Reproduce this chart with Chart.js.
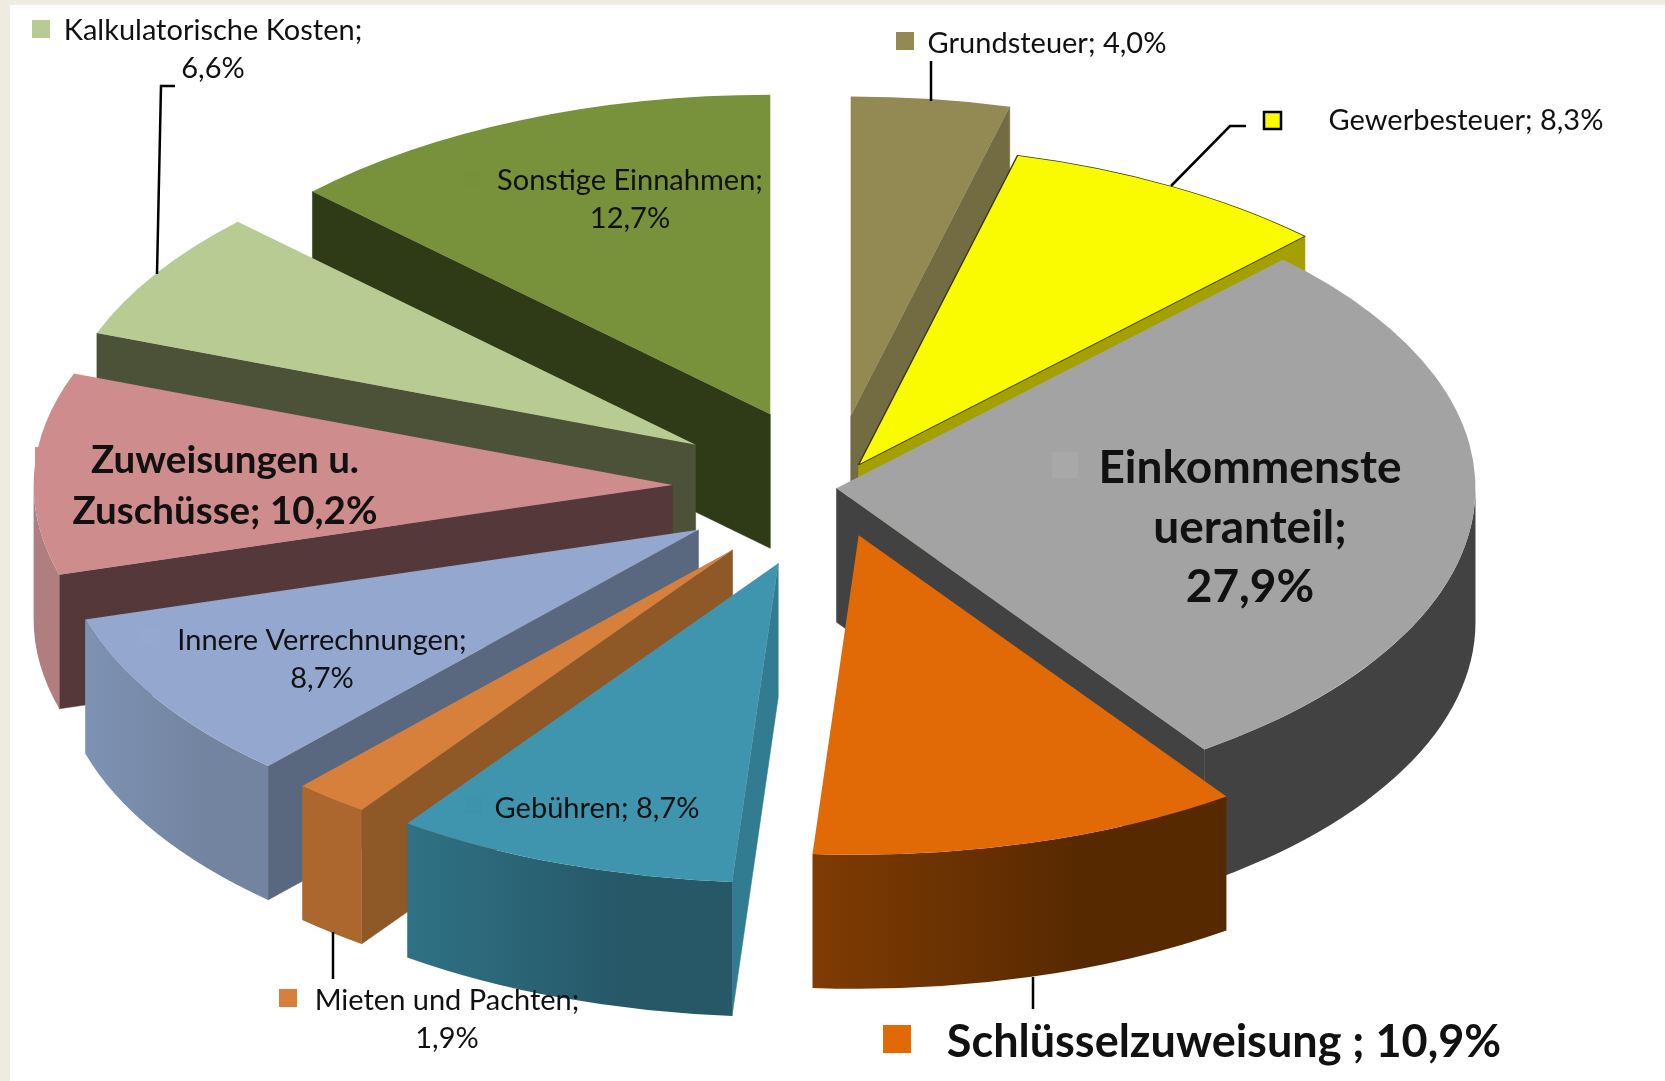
<!DOCTYPE html>
<html>
<head>
<meta charset="utf-8">
<title>Einnahmen</title>
<script src="https://cdn.jsdelivr.net/npm/chart.js@4"></script>
<style>
    html, body { margin: 0; padding: 0; background: #fff; overflow: hidden; }
    #wrap { position: relative; width: 1665px; height: 1081px; }
    #stripLeft { position: absolute; left: 0; top: 0; width: 10px; height: 1081px; background: #eeece1; }
    #stripTop { position: absolute; left: 0; top: 0; width: 1665px; height: 5px; background: #eeece1; }
    canvas { position: absolute; left: 0; top: 0; }
</style>
</head>
<body>
<div id="wrap">
    <div id="stripLeft"></div>
    <div id="stripTop"></div>
    <canvas id="chart" width="1665" height="1081"></canvas>
</div>
<script>
const categories = ['Grundsteuer', 'Gewerbesteuer', 'Einkommensteueranteil', 'Schlüsselzuweisung ', 'Gebühren',
    'Mieten und Pachten', 'Innere Verrechnungen', 'Zuweisungen u. Zuschüsse', 'Kalkulatorische Kosten', 'Sonstige Einnahmen'];
const shares = [4.0, 8.3, 27.9, 10.9, 8.7, 1.9, 8.7, 10.2, 6.6, 12.7];

// how far each slice is pulled out of the pie, in px on the unsquashed disc
const explode = [145, 53, 4, 98, 160, 159, 158, 160, 162, 160];

const topColors = ['#938953', '#fbfb00', '#a3a3a3', '#e16a06', '#3f95ae', '#d7803b', '#93a7cf', '#ce8c8c', '#b8cb92', '#77923a'];
const sideColors = ['#736b41', '#a3a000', '#424242', '#5a2a00', '#327c92', '#8e5827', '#5a687f', '#54383a', '#4b5238', '#2f3a16'];
const frontFrom = ['#736b41', '#a3a000', '#424242', '#7f3b03', '#2f7285', '#ac672f', '#7e92b4', '#b07e7e', '#4b5238', '#2f3a16'];
const frontTo = ['#736b41', '#a3a000', '#424242', '#572901', '#265868', '#ac672f', '#72849f', '#b07e7e', '#4b5238', '#2f3a16'];

const squash = 0.5;
const depth = 134;

// cut = characters per line, cx = centre of the text block
const labelLayout = [
    { cut: [], cx: 1047, y: 43.5, size: 29, key: [896, 32, 18, '#938953'] },
    { cut: [], cx: 1466, y: 120.5, size: 29, key: [1264, 112, 17, '#fbfb00', '#000'] },
    { cut: [12, 10], cx: 1250, y: 468.5, gap: 59.5, size: 46, bold: true, key: [1052, 452, 26, '#a8a8a8'] },
    { cut: [], cx: 1224, y: 1042, size: 45, bold: true, key: [883, 1025, 28, '#e16a06'] },
    { cut: [], cx: 597, y: 808.5, size: 29, key: [465, 797, 17, '#3d93ac'] },
    { cut: [19], cx: 447, y: 1000.5, size: 29, key: [279, 989, 18, '#d7803b'] },
    { cut: [21], cx: 322, y: 640.5, size: 29, key: [142, 629, 17, '#95a9d0'] },
    { cut: [15], cx: 225, y: 460.5, gap: 51, size: 38.5, bold: true, key: [35, 447, 20, '#ce8c8c'] },
    { cut: [23], cx: 213, y: 30.5, size: 29, key: [32, 20, 18, '#b8cb92'] },
    { cut: [19], cx: 630, y: 180.5, size: 29, key: [464, 170, 17, '#76913a'] }
];

const leaders = [
    [[931, 61], [931, 101]],
    [[1246, 126], [1230, 126], [1171, 186]],
    [[1033, 977], [1033, 1009]],
    [[333, 932], [333, 979]],
    [[175, 86], [161, 86], [157, 274]]
];

function formatShare(v) {
    return v.toFixed(1).replace('.', ',') + '%';
}

function labelLines(i) {
    const text = categories[i] + '; ' + formatShare(shares[i]);
    const lines = [];
    let pos = 0;
    labelLayout[i].cut.forEach(n => {
        lines.push(text.slice(pos, pos + n).trim());
        pos += n;
    });
    lines.push(text.slice(pos).trim());
    return lines;
}

function drawWalls(ctx, arc, i, cy) {
    const mid = (arc.startAngle + arc.endAngle) / 2;
    const ox = arc.x + Math.cos(mid) * explode[i];
    const oy = cy + Math.sin(mid) * explode[i] * squash;
    const R = arc.outerRadius;
    const rim = a => [ox + Math.cos(a) * R, oy + Math.sin(a) * R * squash];

    const radial = a => {
        const p = rim(a);
        ctx.beginPath();
        ctx.moveTo(ox, oy);
        ctx.lineTo(p[0], p[1]);
        ctx.lineTo(p[0], p[1] + depth);
        ctx.lineTo(ox, oy + depth);
        ctx.closePath();
        ctx.fillStyle = sideColors[i];
        ctx.strokeStyle = sideColors[i];
        ctx.lineWidth = 0.5;
        ctx.fill();
        ctx.stroke();
    };
    if (Math.cos(arc.startAngle) < 0) radial(arc.startAngle);
    if (Math.cos(arc.endAngle) > 0) radial(arc.endAngle);

    const a0 = Math.max(arc.startAngle, 0);
    const a1 = Math.min(arc.endAngle, Math.PI);
    if (a1 > a0) {
        const x0 = rim(a0)[0], x1 = rim(a1)[0];
        const grad = ctx.createLinearGradient(x1, 0, x0, 0);
        grad.addColorStop(0, frontFrom[i]);
        grad.addColorStop(0.65, frontTo[i]);
        grad.addColorStop(1, frontTo[i]);
        ctx.beginPath();
        ctx.ellipse(ox, oy, R, R * squash, 0, a0, a1);
        ctx.ellipse(ox, oy + depth, R, R * squash, 0, a1, a0, true);
        ctx.closePath();
        ctx.fillStyle = grad;
        ctx.fill();
    }
}

const pie3d = {
    id: 'pie3d',
    beforeDatasetDraw(chart, args) {
        const ctx = chart.ctx;
        const arcs = args.meta.data;
        const cy = arcs[0].y;
        const order = arcs.map((a, i) => i).sort((p, q) =>
            Math.sin((arcs[p].startAngle + arcs[p].endAngle) / 2) - Math.sin((arcs[q].startAngle + arcs[q].endAngle) / 2));
        order.forEach(i => {
            const arc = arcs[i];
            const mid = (arc.startAngle + arc.endAngle) / 2;
            drawWalls(ctx, arc, i, cy);
            ctx.save();
            ctx.translate(arc.x, cy);
            ctx.scale(1, squash);
            ctx.translate(-arc.x + Math.cos(mid) * explode[i], -cy + Math.sin(mid) * explode[i]);
            arc.draw(ctx);
            ctx.restore();
        });
        return false;
    },
    afterDatasetsDraw(chart) {
        const ctx = chart.ctx;
        ctx.save();
        ctx.strokeStyle = '#000';
        ctx.lineWidth = 2.5;
        leaders.forEach(pts => {
            ctx.beginPath();
            pts.forEach((p, n) => n ? ctx.lineTo(p[0], p[1]) : ctx.moveTo(p[0], p[1]));
            ctx.stroke();
        });
        labelLayout.forEach((l, i) => {
            const k = l.key;
            ctx.fillStyle = k[3];
            ctx.fillRect(k[0], k[1], k[2], k[2]);
            if (k[4]) {
                ctx.strokeStyle = k[4];
                ctx.lineWidth = 2.5;
                ctx.strokeRect(k[0], k[1], k[2], k[2]);
            }
            ctx.fillStyle = '#111';
            ctx.font = (l.bold ? 'bold ' : '') + l.size + 'px Lato';
            ctx.textAlign = 'center';
            ctx.textBaseline = 'middle';
            labelLines(i).forEach((line, n) => ctx.fillText(line, l.cx, l.y + n * (l.gap || 38.5)));
        });
        ctx.restore();
    }
};

new Chart(document.getElementById('chart'), {
    type: 'pie',
    data: {
        labels: categories,
        datasets: [{
            data: shares,
            backgroundColor: topColors,
            borderWidth: [0, 1.5, 0, 0, 0, 0, 0, 0, 0, 0],
            borderColor: '#3a3a00',
            hoverOffset: 0
        }]
    },
    options: {
        responsive: false,
        animation: false,
        events: [],
        radius: 639,
        layout: { padding: { bottom: 105 } },
        plugins: {
            legend: { display: false },
            tooltip: { enabled: false }
        }
    },
    plugins: [pie3d]
});
</script>
</body>
</html>
